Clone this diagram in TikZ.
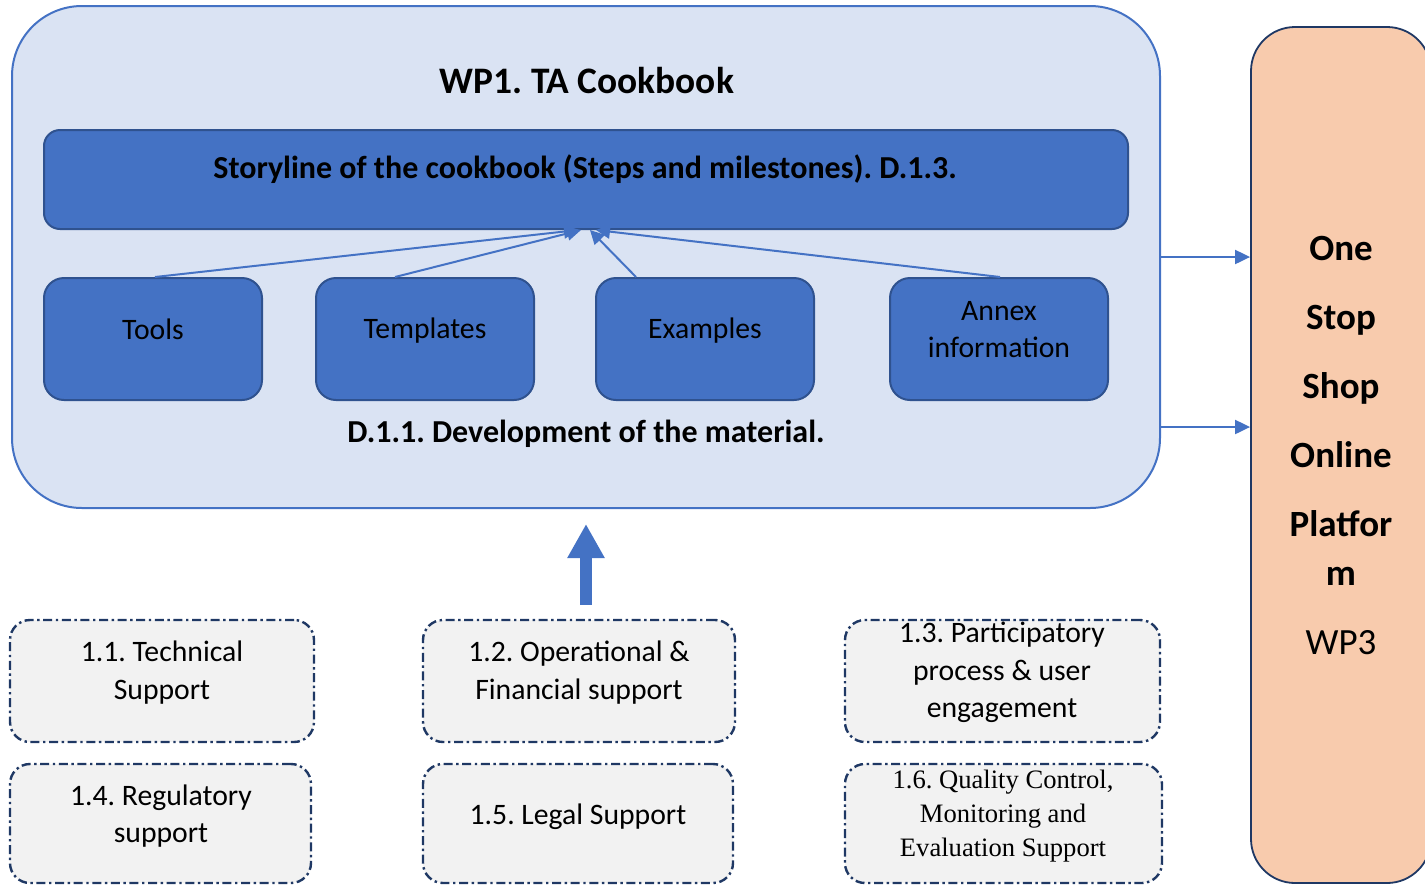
\documentclass[tikz,border=0pt]{standalone}
\usepackage{fontspec}
\setmainfont{Carlito}
\newfontfamily\serifTNR{Liberation Serif}
\usetikzlibrary{arrows.meta,calc}
\definecolor{outerfill}{HTML}{DAE3F3}
\definecolor{accent}{HTML}{4472C4}
\definecolor{accentdark}{HTML}{2F528F}
\definecolor{peach}{HTML}{F8CBAD}
\definecolor{navy}{HTML}{1F3864}
\definecolor{boxgray}{HTML}{F2F2F2}
\frenchspacing
\begin{document}
\begin{tikzpicture}[x=0.5pt,y=-0.5pt,
  outerbox/.style={draw=accent, fill=outerfill, line width=1pt, rounded corners=35pt,
    minimum width=574pt, minimum height=251pt, inner sep=0pt},
  storybox/.style={draw=accentdark, fill=accent, line width=1pt, rounded corners=8pt,
    minimum width=542pt, minimum height=49.5pt, inner sep=0pt},
  bluebox/.style={draw=accentdark, fill=accent, line width=1pt, rounded corners=10pt,
    minimum width=109pt, minimum height=61pt, inner sep=0pt},
  ospbox/.style={draw=navy, fill=peach, line width=0.9pt, rounded corners=22pt,
    minimum width=90pt, minimum height=428pt, inner sep=0pt},
  supbox/.style={draw=navy, fill=boxgray, line width=1.2pt, rounded corners=10pt,
    dash pattern=on 4.5pt off 1.8pt on 1.2pt off 1.8pt, inner sep=0pt},
  bodytext/.style={font=\fontsize{14.85pt}{18.75pt}\selectfont, align=center, inner sep=0pt},
  boldtext/.style={font=\fontsize{16pt}{19pt}\selectfont\bfseries, align=center, inner sep=0pt},
  thinarrow/.style={draw=accent, line width=1pt, -{Triangle[length=7pt,width=7pt]}},
  sidearrow/.style={draw=accent, line width=1pt, -{Triangle[length=7.5pt,width=7pt]}},
  bigarrow/.style={draw=accent, line width=6pt, -{Triangle[length=17pt,width=17.5pt]}},
]
\useasboundingbox (0,0) rectangle (1425,885);
\clip (0,0) rectangle (1425,885);

% outer WP1 container
\node[outerbox] (outer) at (586,257) {};
\node[font=\fontsize{18.7pt}{22pt}\selectfont\bfseries, inner sep=0pt] (title) at (587,81) {WP1. TA Cookbook};

% storyline bar
\node[storybox] (story) at (586,179.5) {};
\node[boldtext] (storytext) at (585,169) {Storyline of the cookbook (Steps and milestones). D.1.3.};

% four material boxes
\node[bluebox] (tools) at (153,339) {};
\node[bodytext] (toolst) at (153,329) {Tools};
\node[bluebox] (templates) at (425,339) {};
\node[bodytext] (templatest) at (425,331) {Templates};
\node[bluebox] (examples) at (705,339) {};
\node[bodytext] (examplest) at (705,331) {Examples};
\node[bluebox] (annex) at (999,339) {};
\node[bodytext, font=\fontsize{14.85pt}{18.5pt}\selectfont] (annext) at (999,329.5) {Annex\\information};

\node[boldtext] (devtext) at (586,434) {D.1.1. Development of the material.};

% arrows to the storyline
\draw[thinarrow] ($(tools.north)+(2,0)$) -- ($(story.south)+(-8,0)$);
\draw[thinarrow] ($(templates.north)+(-30,0)$) -- ($(story.south)+(-5,0)$);
\draw[thinarrow] ($(examples.north)+(-69,0)$) -- ($(story.south)+(4,0)$);
\draw[thinarrow] ($(annex.north)+(1,0)$) -- ($(story.south)+(10,0)$);

% One Stop Shop box
\node[ospbox] (osp) at (1341,455) {};
\node[font=\fontsize{18.5pt}{24.5pt}\selectfont\bfseries, align=center, inner sep=0pt] (osptext) at (1341,445)
  {One\\[10pt]Stop\\[10pt]Shop\\[10pt]Online\\[10pt]Platfor\\m\\[10pt]\mdseries WP3};

\coordinate (r1) at (0,257);
\coordinate (r2) at (0,427);
\draw[sidearrow] (outer.east |- r1) -- (osp.west |- r1);
\draw[sidearrow] (outer.east |- r2) -- (osp.west |- r2);

% support boxes
\node[supbox, minimum width=152pt, minimum height=61pt] (b11) at (162,681) {};
\node[bodytext] (b11t) at (162,672.5) {1.1. Technical\\Support};
\node[supbox, minimum width=156pt, minimum height=61pt] (b12) at (579,681) {};
\node[bodytext] (b12t) at (579,672.5) {1.2. Operational \&\\Financial support};
\node[supbox, minimum width=157.5pt, minimum height=61pt] (b13) at (1002.5,681) {};
\node[bodytext] (b13t) at (1002,672.5) {1.3. Participatory\\process \& user\\engagement};

\node[supbox, minimum width=150.5pt, minimum height=59.5pt] (b14) at (160.5,823.5) {};
\node[bodytext] (b14t) at (161,816) {1.4. Regulatory\\support};
\node[supbox, minimum width=155pt, minimum height=59.5pt] (b15) at (578,823.5) {};
\node[bodytext] (b15t) at (578,817) {1.5. Legal Support};
\node[supbox, minimum width=158.5pt, minimum height=59.5pt] (b16) at (1003.5,823.5) {};
\node[font=\serifTNR\fontsize{13.3pt}{17pt}\selectfont, align=center, inner sep=0pt] (b16t) at (1003,816)
  {1.6. Quality Control,\\Monitoring and\\Evaluation Support};

% big arrow from support boxes to WP1
\draw[bigarrow, shorten <=7pt, shorten >=7.5pt] (b12.north -| outer.south) -- (outer.south);
\end{tikzpicture}
\end{document}
